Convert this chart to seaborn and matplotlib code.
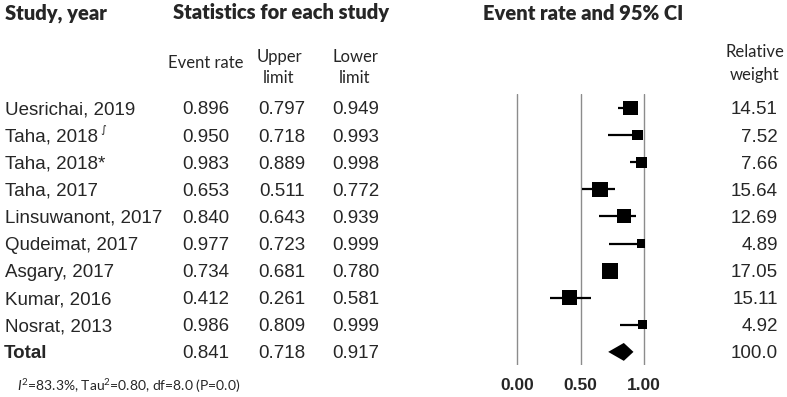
import numpy as np
import pandas as pd
import matplotlib
matplotlib.use("Agg")
import matplotlib.pyplot as plt
import matplotlib.transforms as mtransforms
import seaborn as sns

# data
studies = ["Uesrichai, 2019", "Taha, 2018", "Taha, 2018*", "Taha, 2017",
           "Linsuwanont, 2017", "Qudeimat, 2017", "Asgary, 2017",
           "Kumar, 2016", "Nosrat, 2013"]
event_rate = [0.896, 0.950, 0.983, 0.653, 0.840, 0.977, 0.734, 0.412, 0.986]
upper_limit = [0.797, 0.718, 0.889, 0.511, 0.643, 0.723, 0.681, 0.261, 0.809]
lower_limit = [0.949, 0.993, 0.998, 0.772, 0.939, 0.999, 0.780, 0.581, 0.999]
weights = [14.51, 7.52, 7.66, 15.64, 12.69, 4.89, 17.05, 15.11, 4.92]
total = {"rate": 0.841, "upper": 0.718, "lower": 0.917, "weight": "100.0"}
x_ticks = [0.0, 0.5, 1.0]
x_tick_labels = ["0.00", "0.50", "1.00"]
footer = r"$I^2$=83.3%, Tau$^2$=0.80, df=8.0 (P=0.0)"

df = pd.DataFrame({"study": studies, "rate": event_rate, "lo": upper_limit,
                   "hi": lower_limit, "weight": weights})
df["row"] = np.arange(len(df))
total_row = len(df)

sns.set_style("white")
plt.rcParams["font.family"] = ["Liberation Sans", "DejaVu Sans"]
plt.rcParams["mathtext.fontset"] = "custom"
plt.rcParams["mathtext.rm"] = "Lato"
plt.rcParams["mathtext.it"] = "Lato:italic"

W, H = 787, 397
fig = plt.figure(figsize=(W / 100, H / 100), dpi=100)

# forest axes: 0 -> 517px, 1 -> 644px ; rows at 108px + 27.1px*i
px_per_unit = 127.0
x0_px = 517.0
ax_left, ax_right = 490.0, 680.0
ax_top, ax_bot = 94.0, 365.0
row0_px, row_step = 108.0, 27.1
ax = fig.add_axes([ax_left / W, 1 - ax_bot / H, (ax_right - ax_left) / W, (ax_bot - ax_top) / H])
ax.set_xlim((ax_left - x0_px) / px_per_unit, (ax_right - x0_px) / px_per_unit)
ax.set_ylim((ax_bot - row0_px) / row_step, (ax_top - row0_px) / row_step)

for v in x_ticks:
    ax.axvline(v, color="#8c8c8c", lw=1.0, zorder=0)

ax.hlines(df["row"], df["lo"], df["hi"], color="black", lw=1.6, zorder=2)
k = 7.8
sns.scatterplot(data=df, x="rate", y="row", size="weight", marker="s",
                sizes=(k * df["weight"].min(), k * df["weight"].max()),
                size_norm=(df["weight"].min(), df["weight"].max()),
                color="black", edgecolor="black", linewidth=0, legend=False,
                ax=ax, zorder=3)

dh = 0.33
ax.fill([total["upper"], total["rate"], total["lower"], total["rate"]],
        [total_row, total_row - dh, total_row, total_row + dh],
        color="black", lw=0, zorder=3)

for s in ax.spines.values():
    s.set_visible(False)
ax.set_xticks(x_ticks)
ax.set_xticklabels(x_tick_labels, fontweight="bold", fontsize=12.5)
ax.tick_params(axis="x", length=0, pad=9)
ax.set_yticks([])
ax.set_xlabel("")
ax.set_ylabel("")

# table text: x in figure pixels, y in row units
tr = mtransforms.blended_transform_factory(
    mtransforms.Affine2D().scale(1 / W, 1) + fig.transFigure, ax.transData)
fs = 13.5
for i, r in df.iterrows():
    t = fig.text(5, r["row"], r["study"], transform=tr, fontsize=fs,
                 va="center_baseline", ha="left")
    if i == 1:
        ax.annotate("\u222b", xy=(1, 1), xycoords=t, xytext=(2, 2.5),
                    textcoords="offset points", fontsize=8, va="top",
                    ha="left", family="DejaVu Sans")
    fig.text(206, r["row"], f"{r['rate']:.3f}", transform=tr, fontsize=fs,
             va="center_baseline", ha="center")
    fig.text(282, r["row"], f"{r['lo']:.3f}", transform=tr, fontsize=fs,
             va="center_baseline", ha="center")
    fig.text(356, r["row"], f"{r['hi']:.3f}", transform=tr, fontsize=fs,
             va="center_baseline", ha="center")
    fig.text(778, r["row"], f"{r['weight']:.2f}", transform=tr, fontsize=fs,
             va="center_baseline", ha="right")

fig.text(4, total_row, "Total", transform=tr, fontsize=fs, fontweight="bold",
         va="center_baseline", ha="left")
fig.text(206, total_row, f"{total['rate']:.3f}", transform=tr, fontsize=fs,
         va="center_baseline", ha="center")
fig.text(282, total_row, f"{total['upper']:.3f}", transform=tr, fontsize=fs,
         va="center_baseline", ha="center")
fig.text(356, total_row, f"{total['lower']:.3f}", transform=tr, fontsize=fs,
         va="center_baseline", ha="center")
fig.text(778, total_row, total["weight"], transform=tr, fontsize=fs,
         va="center_baseline", ha="right")

# headers (figure pixel coords from the top)
def px(x, y):
    return x / W, 1 - y / H

hdr = dict(family="Lato", fontweight="heavy", fontsize=14.5, va="center")
fig.text(*px(5, 13), "Study, year", ha="left", **hdr)
fig.text(*px(281, 13), "Statistics for each study", ha="center", **hdr)
fig.text(*px(583, 14), "Event rate and 95% CI", ha="center", **hdr)

sub = dict(family="Lato", fontsize=12, va="center", ha="center")
fig.text(*px(206, 63), "Event rate", **sub)
fig.text(*px(279, 57), "Upper", **sub)
fig.text(*px(279, 78), "limit", **sub)
fig.text(*px(355, 57), "Lower", **sub)
fig.text(*px(355, 78), "limit", **sub)
fig.text(*px(755, 52), "Relative", **sub)
fig.text(*px(755, 75), "weight", **sub)

fig.text(*px(17, 386), footer, family="Lato", fontsize=10, va="center", ha="left")

fig.savefig("out.png", dpi=100)
